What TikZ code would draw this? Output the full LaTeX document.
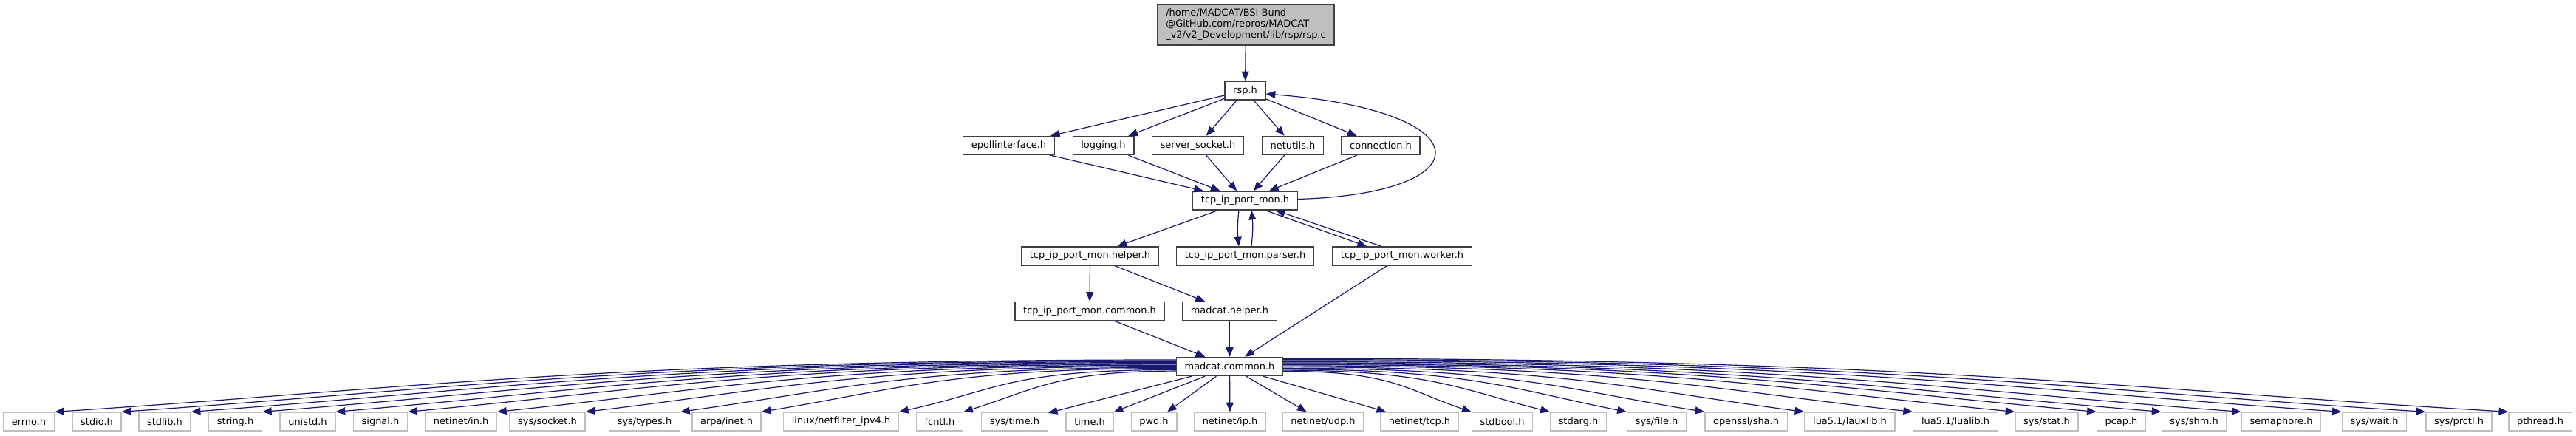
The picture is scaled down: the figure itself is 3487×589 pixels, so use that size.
\documentclass[tikz,border=0pt]{standalone}
\usepackage{fontspec}
\setmainfont{DejaVu Sans}
\usepackage{xcolor}
\usepackage{tikz}
\usetikzlibrary{arrows.meta,positioning,calc}

\definecolor{edgeblue}{HTML}{191970}
\definecolor{boxgray}{HTML}{404040}
\definecolor{sysgray}{HTML}{BFBFBF}

\begin{document}
\begin{tikzpicture}[x=0.75pt,y=-0.75pt,
		font=\fontsize{9.7}{11.25}\selectfont,
		hdr/.style={draw=boxgray, line width=1pt, fill=white, inner xsep=8.4pt, inner ysep=0pt, minimum height=18.75pt},
		sysbox/.style={hdr, draw=sysgray},
		edge/.style={draw=edgeblue, line width=0.9pt, -{Triangle[length=9.5pt,width=7.5pt]}}]
		\useasboundingbox (0,0) rectangle (3487,589);

		\node[hdr, fill=sysgray, align=left, minimum height=41.25pt, inner ysep=2pt] (rspc) at (1686.5,33.5) {/home/MADCAT/BSI-Bund\\@GitHub.com/repros/MADCAT\\\_v2/v2\_Development/lib/rsp/rsp.c};
		\node[hdr] (rsph) at (1685.5,122.5) {rsp.h};

		\node[hdr] (epoll) at (1365.5,197) {epollinterface.h};
		\node[hdr] (logging) at (1493.5,197) {logging.h};
		\node[hdr] (srvsock) at (1621.5,197) {server\_socket.h};
		\node[hdr] (netutils) at (1750,197) {netutils.h};
		\node[hdr] (conn) at (1869,197) {connection.h};

		\node[hdr] (tipm) at (1685.5,271.5) {tcp\_ip\_port\_mon.h};

		\node[hdr] (tipmhelper) at (1475.5,346.5) {tcp\_ip\_port\_mon.helper.h};
		\node[hdr] (tipmparser) at (1685.5,346.5) {tcp\_ip\_port\_mon.parser.h};
		\node[hdr] (tipmworker) at (1898,346.5) {tcp\_ip\_port\_mon.worker.h};

		\node[hdr] (tipmcommon) at (1475,421) {tcp\_ip\_port\_mon.common.h};
		\node[hdr] (mchelper) at (1664.5,421) {madcat.helper.h};

		\node[hdr] (mccommon) at (1664.5,496) {madcat.common.h};

		% system headers
		\foreach \n/\x/\lbl in {errno/39/errno.h, stdio/131/stdio.h, stdlib/223/stdlib.h,
				string/318.5/string.h, unistd/416.5/unistd.h, signal/515/signal.h,
				inh/624/{netinet/in.h}, socket/741/{sys/socket.h}, types/872.5/{sys/types.h},
				inet/983.5/{arpa/inet.h}, nfipv4/1138.5/{linux/netfilter\_ipv4.h}, fcntl/1272/fcntl.h,
				systime/1373.5/{sys/time.h}, time/1475/time.h, pwd/1562/pwd.h,
				ip/1665/{netinet/ip.h}, udp/1791/{netinet/udp.h}, tcp/1921.5/{netinet/tcp.h},
				stdbool/2033.5/stdbool.h, stdarg/2136.5/stdarg.h, file/2242.5/{sys/file.h},
				sha/2363.5/{openssl/sha.h}, lauxlib/2504/{lua5.1/lauxlib.h}, lualib/2647/{lua5.1/lualib.h},
				stat/2770.5/{sys/stat.h}, pcap/2871.5/pcap.h, shm/2970/{sys/shm.h},
				semaphore/3088/semaphore.h, wait/3214/{sys/wait.h}, prctl/3328.5/{sys/prctl.h},
				pthread/3438.5/pthread.h}
			\node[sysbox] (\n) at (\x,570.5) {\lbl};

		\draw[edge] (rspc) -- (rsph);
		\foreach \n in {epoll,logging,srvsock,netutils,conn} {
			\draw[edge] (rsph) -- (\n);
			\draw[edge] (\n) -- (tipm);
		}
		\draw[edge] ([yshift=1.5pt]tipm.east) .. controls (2010,262) and (2010,150) .. ([yshift=-3.4pt]rsph.east);

		\draw[edge] (tipm) -- (tipmhelper);
		\draw[edge] ([xshift=-6.4pt]tipm.south) to[bend right=6] ([xshift=-6.4pt]tipmparser.north);
		\draw[edge] ([xshift=6.4pt]tipmparser.north) to[bend right=6] ([xshift=6.4pt]tipm.south);
		\draw[edge] ([xshift=20.6pt]tipm.south) -- ([xshift=-36pt]tipmworker.north);
		\draw[edge] ([xshift=-21pt]tipmworker.north) -- ([xshift=31pt]tipm.south);

		\draw[edge] (tipmhelper) -- (tipmcommon);
		\draw[edge] (tipmhelper) -- (mchelper);
		\draw[edge] (tipmcommon) -- (mccommon);
		\draw[edge] (mchelper) -- (mccommon);
		\draw[edge] (tipmworker) -- (mccommon);

		% fan out to the system headers
		\foreach \n/\x in {errno/39, stdio/131, stdlib/223, string/318.5, unistd/416.5, signal/515,
				inh/624, socket/741, types/872.5, inet/983.5, nfipv4/1138.5, fcntl/1272} {
			\pgfmathsetmacro\ca{0.5*(\x-1592)}
			\pgfmathsetmacro\cb{-0.3*(\x-1592)}
			\pgfmathsetmacro\yo{-7.5+0.00918*(1592-\x)}
			\draw[edge] ([yshift=\yo pt]mccommon.west) .. controls +(\ca,0) and +(\cb,-30) .. (\n.north east);
		}
		\foreach \n in {systime,time,pwd,ip,udp,tcp}
			\draw[edge] (mccommon) -- (\n);
		\foreach \n/\x in {stdbool/2033.5, stdarg/2136.5, file/2242.5, sha/2363.5, lauxlib/2504,
				lualib/2647, stat/2770.5, pcap/2871.5, shm/2970, semaphore/3088, wait/3214,
				prctl/3328.5, pthread/3438.5} {
			\pgfmathsetmacro\ca{0.5*(\x-1737)}
			\pgfmathsetmacro\cb{-0.3*(\x-1737)}
			\pgfmathsetmacro\yo{-7.5+0.00918*(\x-1737)}
			\draw[edge] ([yshift=\yo pt]mccommon.east) .. controls +(\ca,0) and +(\cb,-30) .. (\n.north west);
		}
	\end{tikzpicture}
\end{document}
